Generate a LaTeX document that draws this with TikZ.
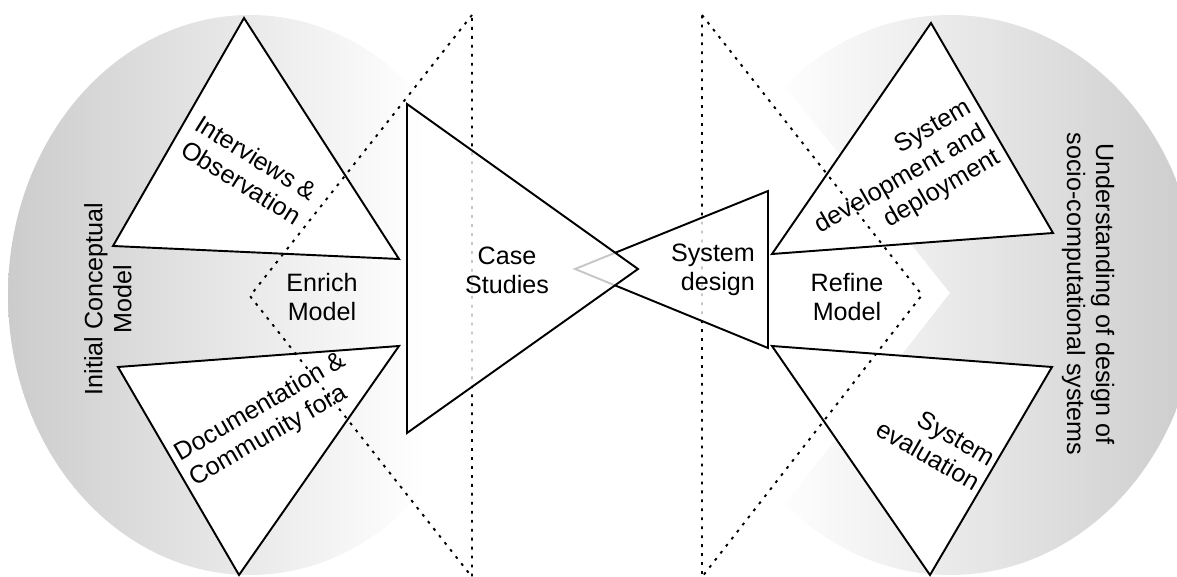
\documentclass[tikz,border=0pt]{standalone}
\usepackage{fontspec}
\setmainfont{Liberation Sans}
\usetikzlibrary{positioning,calc}

% fades for the two discs
\pgfdeclarehorizontalshading{fadeleft}{100bp}{color(0bp)=(gray!40); color(25bp)=(gray!40); color(68bp)=(white); color(100bp)=(white)}
\pgfdeclarehorizontalshading{faderight}{100bp}{color(0bp)=(white); color(32bp)=(white); color(75bp)=(gray!40); color(100bp)=(gray!40)}

\begin{document}
\begin{tikzpicture}[
  x=0.02cm, y=-0.02cm,
  font=\fontsize{14.3}{16.5}\selectfont,
  tri/.style={draw=black, line width=1.1pt, fill=white},
  bigtri/.style={draw=black, line width=1.1pt, fill=white, fill opacity=0.78},
  dotline/.style={draw=black, line width=1.1pt, dash pattern=on 1.6pt off 3.5pt},
  lbl/.style={align=center, inner sep=0pt},
]

\useasboundingbox (0,0) rectangle (1177,577);

% --- Shaded discs ---
\shade[shading=fadeleft] (250,295) ellipse [x radius=242, y radius=280];
\begin{scope}
  \clip (950,293) -- (700,-20) -- (1220,-20) -- (1220,600) -- (710,600) -- cycle;
  \shade[shading=faderight] (950,295) ellipse [x radius=248, y radius=280];
\end{scope}

% --- Corner points ---
\coordinate (iv-t) at (244,18);   \coordinate (iv-l) at (113,246);  \coordinate (iv-r) at (399,259);
\coordinate (doc-l) at (118,367); \coordinate (doc-r) at (399,346); \coordinate (doc-b) at (239,575);
\coordinate (dev-t) at (931,23);  \coordinate (dev-l) at (772,254); \coordinate (dev-r) at (1053,233);
\coordinate (ev-l) at (772,346);  \coordinate (ev-r) at (1052,367); \coordinate (ev-b) at (930,575);
\coordinate (cs-t) at (407,104);  \coordinate (cs-b) at (407,433);  \coordinate (cs-tip) at (638,269);
\coordinate (sd-t) at (768,191);  \coordinate (sd-b) at (768,348);  \coordinate (sd-tip) at (575,269);
\coordinate (enr-t) at (472,15);  \coordinate (enr-tip) at (250,296); \coordinate (enr-b) at (472,577);
\coordinate (ref-t) at (702,15);  \coordinate (ref-tip) at (922,295); \coordinate (ref-b) at (702,577);

% --- Outer triangles ---
\draw[tri] (iv-t) -- (iv-l) -- (iv-r) -- cycle;
\draw[tri] (doc-l) -- (doc-r) -- (doc-b) -- cycle;
\draw[tri] (dev-t) -- (dev-l) -- (dev-r) -- cycle;
\draw[tri] (ev-l) -- (ev-r) -- (ev-b) -- cycle;

% --- Dotted wedges ---
\draw[dotline] (enr-t) -- (enr-tip) -- (enr-b) -- cycle;
\draw[dotline] (ref-t) -- (ref-tip) -- (ref-b) -- cycle;

% --- Central triangles ---
\draw[bigtri] (sd-t) -- (sd-b) -- (sd-tip) -- cycle;
\draw[bigtri] (cs-t) -- (cs-b) -- (cs-tip) -- cycle;

% --- Labels ---
\node[lbl, rotate=-32] (interviews) at (249,170) {Interviews \&\\Observation};
\node[lbl, rotate=30, align=left] (docs) at (268,420) {Documentation \&\\Community fora};
\node[lbl, rotate=30, align=right] (devdeploy) at (901,180) {System\\development and\\deployment};
\node[lbl, rotate=-30, align=right] (evaluation) at (936,443) {System\\evaluation};
\node[lbl] (enrich) at (322,297) {Enrich\\Model};
\node[lbl] (casestudies) at (507,270) {Case\\Studies};
\node[lbl, align=right] (sysdesign) at (713,270) {System\\design};
\node[lbl] (refine) at (847,297) {Refine\\Model};
\node[lbl, rotate=90] (initial) at (108,299) {Initial Conceptual\\Model};
\node[lbl, rotate=-90] (understanding) at (1088,294) {Understanding of design of\\socio-computational systems};

\end{tikzpicture}
\end{document}
